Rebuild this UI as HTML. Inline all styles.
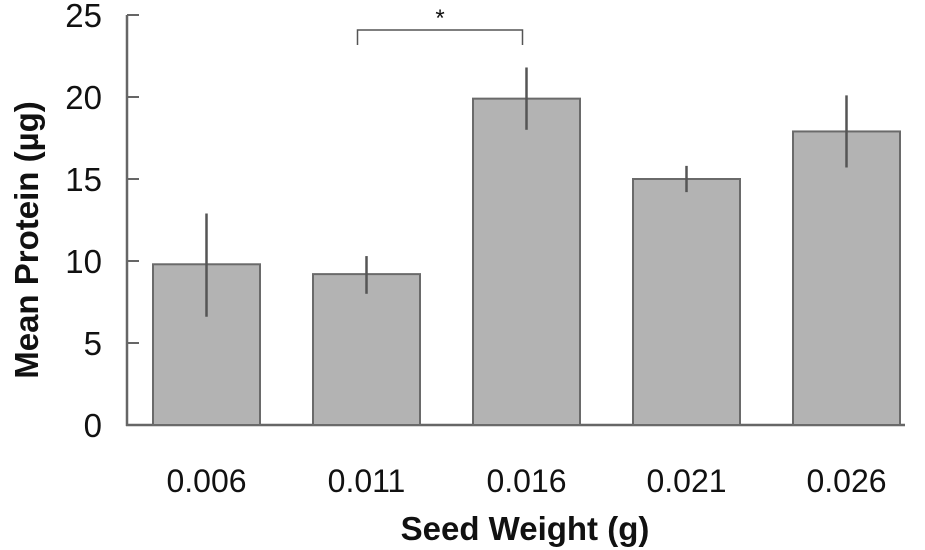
<!DOCTYPE html>
<html><head><meta charset="utf-8"><style>
body{margin:0;background:#fff}
svg{display:block;font-family:"Liberation Sans",sans-serif}
</style></head><body>
<svg id="chart" width="925" height="550">
<g id="g"></g>
</svg>
<script>
const categories=["0.006","0.011","0.016","0.021","0.026"];
const means=[9.8,9.2,19.9,15.0,17.9];
const errLow=[6.6,8.0,18.0,14.2,15.7];
const errHigh=[12.9,10.3,21.8,15.8,20.1];
const yTicks=[0,5,10,15,20,25];
const NS="http://www.w3.org/2000/svg";
const g=document.getElementById('g');
function y(v){return 425-v*16.4;}
function x(i){return 153+i*160;}
const bw=107;
function el(t,a,txt){const e=document.createElementNS(NS,t);for(const k in a)e.setAttribute(k,a[k]);if(txt!==undefined)e.textContent=txt;g.appendChild(e);return e;}
let ax=el('line',{x1:127,y1:y(25),x2:127,y2:y(0)+1,stroke:'#666','stroke-width':2.5});


let xa=el('line',{x1:126,y1:y(0),x2:905,y2:y(0),stroke:'#666','stroke-width':2.5});


yTicks.forEach(t=>{
 let tk=el('line',{x1:127,y1:y(t),x2:139,y2:y(t),stroke:'#666','stroke-width':2});
 
 
 let l=el('text',{x:102,y:y(t)+12,'text-anchor':'end','font-size':33,fill:'#111'},t);
 
 
});
categories.forEach((c,i)=>{
 let b=el('rect',{x:x(i),y:y(means[i]),width:bw,height:y(0)-y(means[i]),fill:'#b3b3b3',stroke:'#6a6a6a','stroke-width':2});
 
 
 let e=el('line',{x1:x(i)+bw/2,x2:x(i)+bw/2,y1:y(errHigh[i]),y2:y(errLow[i]),stroke:'#555','stroke-width':2.5});
 
 
 let l=el('text',{x:x(i)+bw/2,y:492,'text-anchor':'middle','font-size':32,fill:'#111'},c);
 
 
});
let br=el('path',{d:`M${x(1)+bw/2-9},45 V30 H${x(2)+bw/2-4} V45`,fill:'none',stroke:'#555','stroke-width':1.5});


let st=el('text',{x:440,y:26,'text-anchor':'middle','font-size':24,fill:'#111'},'*');


let xt=el('text',{x:525,y:540,'text-anchor':'middle','font-size':33,'font-weight':'bold',fill:'#111'},'Seed Weight (g)');


let yt=el('text',{x:0,y:0,transform:'translate(38,240) rotate(-90)','text-anchor':'middle','font-size':33,'font-weight':'bold',fill:'#111'},'Mean Protein  (µg)');


</script>
</body></html>
